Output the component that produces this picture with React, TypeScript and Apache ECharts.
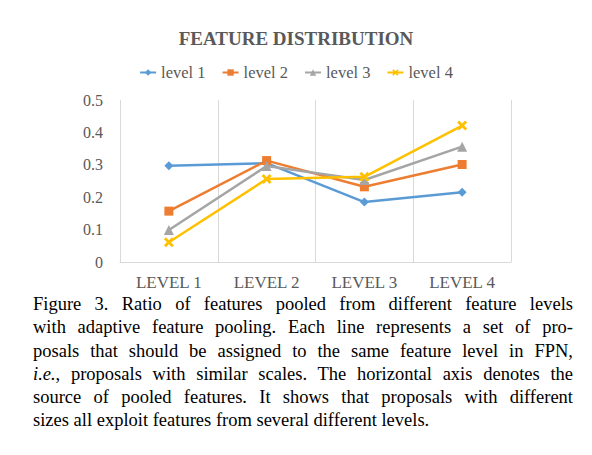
import React, { useEffect, useRef } from "react";
import * as echarts from "echarts";

const categories = ["LEVEL 1", "LEVEL 2", "LEVEL 3", "LEVEL 4"];
const seriesNames = ["level 1", "level 2", "level 3", "level 4"];
const level1 = [0.297, 0.305, 0.185, 0.215];
const level2 = [0.157, 0.313, 0.232, 0.301];
const level3 = [0.099, 0.296, 0.253, 0.356];
const level4 = [0.061, 0.256, 0.263, 0.421];
const yTicks = { min: 0, max: 0.5, interval: 0.1 };
const colors = ["#5B9BD5", "#ED7D31", "#A5A5A5", "#FFC000"];
const xSymbol =
  "path://M2,0 L5,3 L8,0 L10,2 L7,5 L10,8 L8,10 L5,7 L2,10 L0,8 L3,5 L0,2 Z";
const symbols = ["diamond", "rect", "triangle", xSymbol];
const symbolSizes = [9, 9, 10, 10];

const captionLines = [
  "Figure 3. Ratio of features pooled from different feature levels",
  "with adaptive feature pooling.  Each line represents a set of pro-",
  "posals that should be assigned to the same feature level in FPN,",
  "ITALIC, proposals with similar scales. The horizontal axis denotes the",
  "source of pooled features.  It shows that proposals with different",
  "sizes all exploit features from several different levels.",
];

const serif = "'Liberation Serif', 'Times New Roman', serif";

export default function App() {
  const ref = useRef<HTMLDivElement>(null);
  useEffect(() => {
    if (!ref.current) return;
    const chart = echarts.init(ref.current, undefined, { renderer: "svg" });
    const data = [level1, level2, level3, level4];
    chart.setOption({
      animation: false,
      color: colors,
      title: {
        text: "FEATURE DISTRIBUTION",
        left: "center",
        top: 24,
        textStyle: {
          fontFamily: serif,
          fontSize: 19,
          fontWeight: "bold",
          color: "#595959",
        },
      },
      legend: {
        top: 59,
        left: "center",
        itemWidth: 16,
        itemHeight: 8,
        itemGap: 16,
        textStyle: { fontFamily: serif, fontSize: 16.5, color: "#595959" },
        data: seriesNames,
      },
      grid: { left: 120, right: 81, top: 100, bottom: 33 },
      xAxis: {
        type: "category",
        data: categories,
        boundaryGap: true,
        axisLine: { show: true, lineStyle: { color: "#D9D9D9", width: 1 } },
        axisTick: { show: false },
        splitLine: { show: true, lineStyle: { color: "#D9D9D9", width: 1 } },
        axisLabel: {
          fontFamily: serif,
          fontSize: 17,
          color: "#595959",
          margin: 12,
          lineHeight: 17,
        },
      },
      yAxis: {
        type: "value",
        min: yTicks.min,
        max: yTicks.max,
        interval: yTicks.interval,
        axisLine: { show: false },
        axisTick: { show: false },
        splitLine: { show: false },
        axisLabel: {
          fontFamily: serif,
          fontSize: 16,
          color: "#595959",
          margin: 17,
        },
      },
      series: data.map((d, i) => ({
        name: seriesNames[i],
        type: "line",
        data: d,
        symbol: symbols[i],
        symbolSize: symbolSizes[i],
        lineStyle: { width: 2.5, color: colors[i] },
        itemStyle: { color: colors[i] },
      })),
    });
    return () => chart.dispose();
  }, []);

  return (
    <div style={{ position: "absolute", left: 0, top: 0, width: 592, height: 455, background: "#fff" }}>
      <div ref={ref} style={{ position: "absolute", left: 0, top: 0, width: 592, height: 295 }} />
      <div
        style={{
          position: "absolute",
          left: 33,
          top: 293,
          width: 540,
          fontFamily: serif,
          fontSize: 18.5,
          lineHeight: "23.3px",
          color: "#000",
        }}
      >
        {captionLines.map((line, i) => (
          <div
            key={i}
            style={{
              textAlign: i === captionLines.length - 1 ? "left" : "justify",
              textAlignLast: i === captionLines.length - 1 ? "left" : "justify",
              whiteSpace: "nowrap",
            }}
          >
            {line.startsWith("ITALIC") ? (
              <>
                <i>i.e.</i>
                {line.slice(6)}
              </>
            ) : (
              line
            )}
          </div>
        ))}
      </div>
    </div>
  );
}
